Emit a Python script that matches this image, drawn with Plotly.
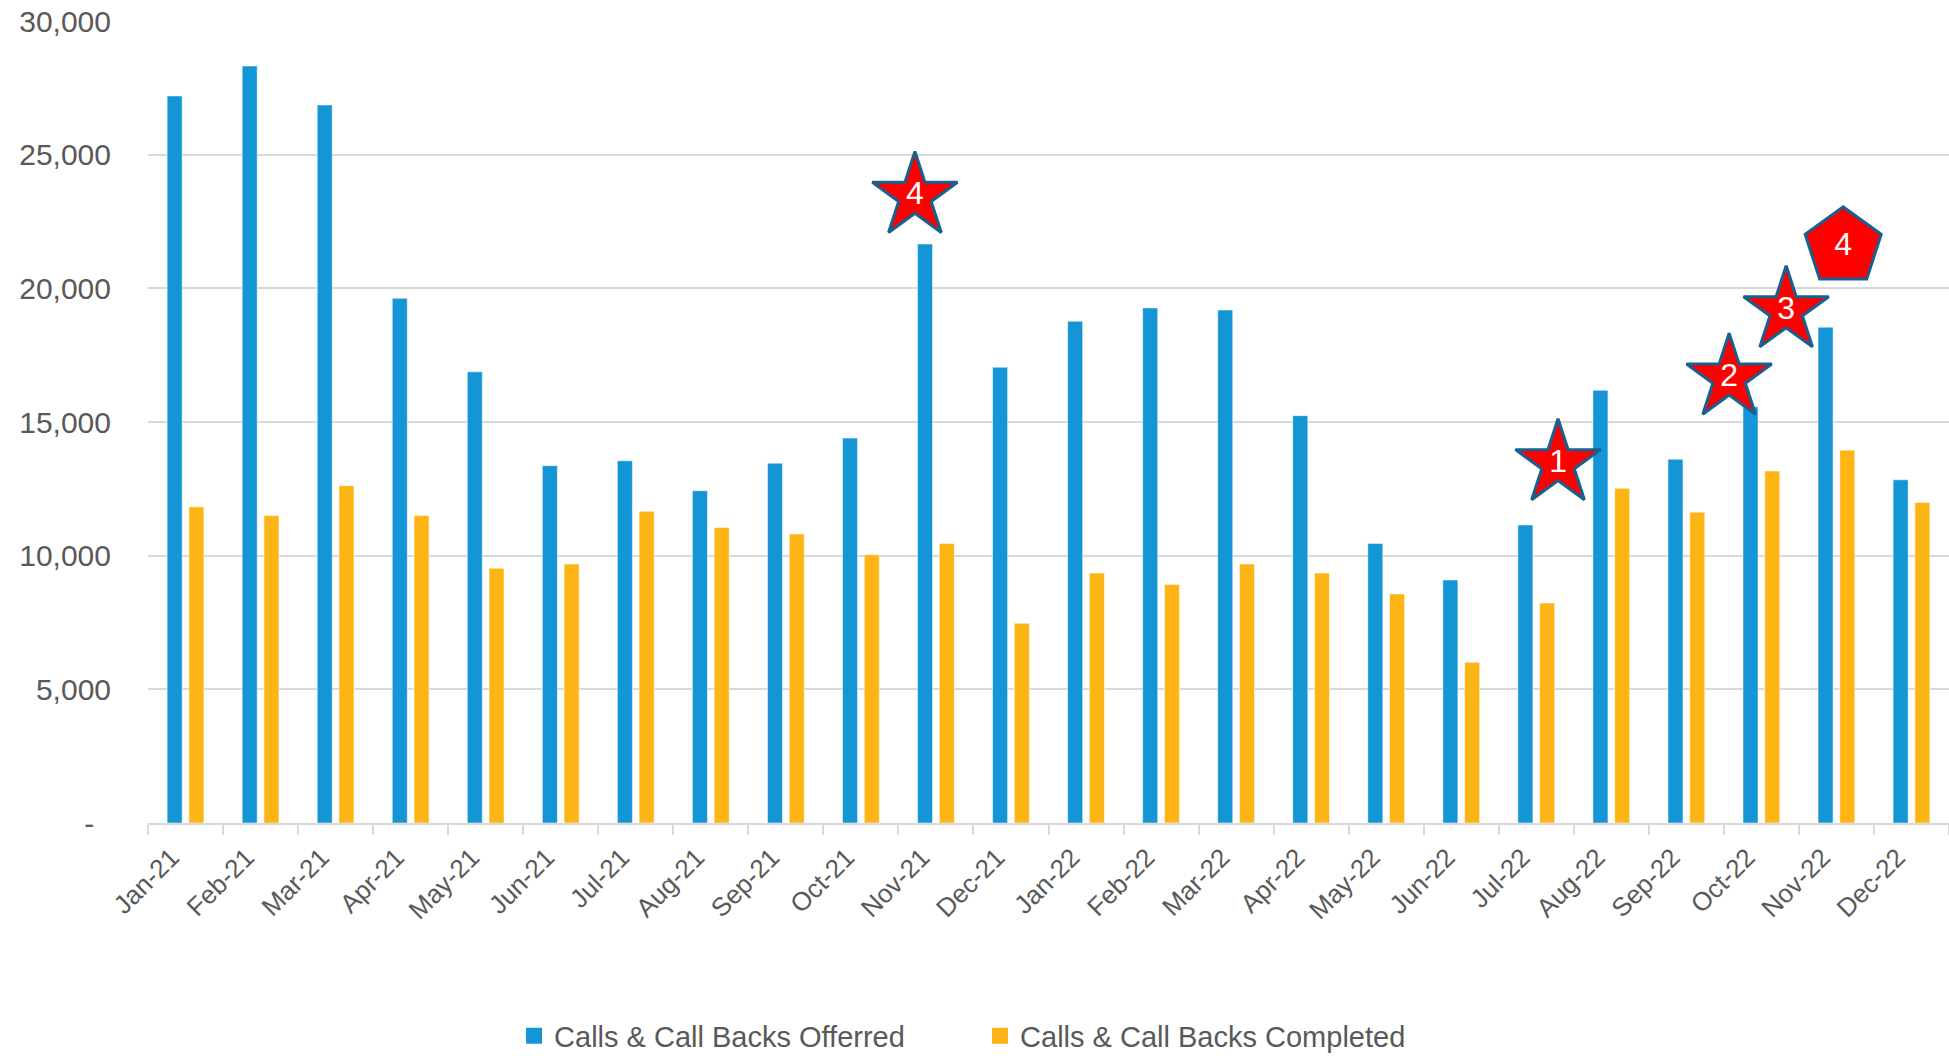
import plotly.graph_objects as go

months = ["Jan-21", "Feb-21", "Mar-21", "Apr-21", "May-21", "Jun-21", "Jul-21", "Aug-21",
          "Sep-21", "Oct-21", "Nov-21", "Dec-21", "Jan-22", "Feb-22", "Mar-22", "Apr-22",
          "May-22", "Jun-22", "Jul-22", "Aug-22", "Sep-22", "Oct-22", "Nov-22", "Dec-22"]

offered = [27200, 28320, 26860, 19630, 16880, 13370, 13550, 12430, 13460, 14400, 21660, 17050,
           18770, 19270, 19190, 15240, 10460, 9090, 11150, 16190, 13610, 15570, 18550, 12840]

completed = [11830, 11500, 12620, 11500, 9530, 9690, 11660, 11060, 10810, 10040, 10460, 7470,
             9350, 8920, 9690, 9350, 8570, 6010, 8230, 12520, 11630, 13170, 13950, 11990]

series_names = ["Calls & Call Backs Offerred", "Calls & Call Backs Completed"]

y_tickvals = [0, 5000, 10000, 15000, 20000, 25000, 30000]
y_ticktext = ["-\u00a0\u00a0", "5,000", "10,000", "15,000", "20,000", "25,000", "30,000"]

# callout markers (position along month index, value, label, shape)
callout_x = [9.72, 18.29, 20.57, 21.33, 22.09]
callout_y = [23450, 13450, 16650, 19170, 21560]
callout_text = ["4", "1", "2", "3", "4"]
callout_symbol = ["star", "star", "star", "star", "pentagon"]
callout_size = [64, 64, 64, 64, 80]

BLUE = "#1395D6"
ORANGE = "#FDB515"
GRAY_TXT = "#595959"
GRID = "#D9D9D9"
FONT = "Arial, 'Liberation Sans', sans-serif"

fig = go.Figure()
fig.add_trace(go.Bar(x=months, y=offered, name=series_names[0], marker_color=BLUE,
                     marker_line=dict(color="rgba(255,255,255,0.5)", width=1), showlegend=False))
fig.add_trace(go.Bar(x=months, y=completed, name=series_names[1], marker_color=ORANGE,
                     marker_line=dict(color="rgba(255,255,255,0.5)", width=1), showlegend=False))

# legend entries with larger square keys
for nm, col in zip(series_names, [BLUE, ORANGE]):
    fig.add_trace(go.Scatter(x=[None], y=[None], mode="markers", name=nm,
                             marker=dict(symbol="square", size=17, color=col)))

fig.add_trace(go.Scatter(
    x=callout_x, y=callout_y, xaxis="x2", mode="markers+text", text=callout_text,
    textposition="middle center", textfont=dict(color="white", size=32, family=FONT),
    marker=dict(symbol=callout_symbol, size=callout_size, color="#FF0000", opacity=1,
                line=dict(color="#17608F", width=3)),
    opacity=1, cliponaxis=False, showlegend=False, hoverinfo="skip"))

fig.update_layout(
    width=1949, height=1061,
    margin=dict(l=148, r=0, t=21, b=238, autoexpand=False),
    paper_bgcolor="white", plot_bgcolor="white",
    font=dict(family=FONT, color=GRAY_TXT),
    barmode="group", bargap=0.42, bargroupgap=0.31,
    xaxis=dict(type="category", range=[-0.5, 23.5], tickangle=-45, tickson="boundaries",
               ticks="outside", ticklen=10, tickwidth=2, tickcolor=GRID,
               showline=True, linecolor=GRID, linewidth=2, showgrid=False,
               tickfont=dict(size=26, color=GRAY_TXT), ticklabelstandoff=7,
               ticklabelshift=-14),
    xaxis2=dict(overlaying="x", range=[-0.5, 23.5], visible=False, showgrid=False),
    yaxis=dict(range=[0, 30005], tickvals=y_tickvals, ticktext=y_ticktext,
               showgrid=True, gridcolor=GRID, gridwidth=2, zeroline=False, showline=False,
               ticks="", tickfont=dict(size=30, color=GRAY_TXT), ticklabelstandoff=36),
    legend=dict(orientation="h", x=0.462, xanchor="center", y=-0.2656, yanchor="middle",
                font=dict(size=29, color=GRAY_TXT), entrywidth=421, traceorder="normal"),
)

fig.write_html("out.html", config={"displayModeBar": False},
               post_script="document.body.style.margin='0';document.body.style.overflow='hidden';")
